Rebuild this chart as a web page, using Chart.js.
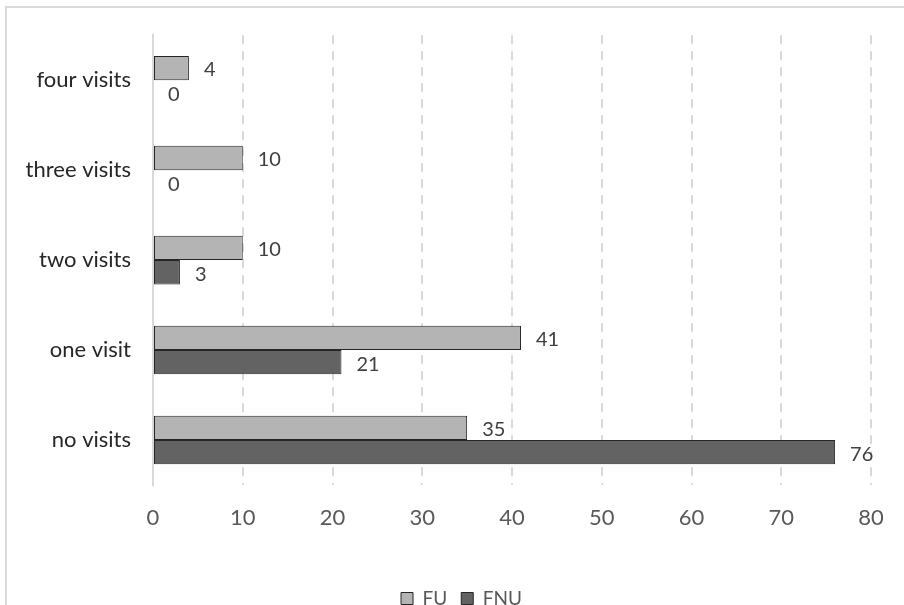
<!DOCTYPE html>
<html>
<head>
<meta charset="utf-8">
<script src="https://cdn.jsdelivr.net/npm/chart.js@4.4.0/dist/chart.umd.min.js"></script>
<style>
  html, body { margin: 0; padding: 0; background: #fff; }
  #wrap { position: relative; width: 904px; height: 605px; overflow: hidden; }
  #frame { position: absolute; left: 5px; top: 6px; width: 1000px; height: 700px; border: 2px solid #d9d9d9; box-sizing: border-box; }
  #chart { position: absolute; left: 0; top: 0; }
</style>
</head>
<body>
<div id="wrap">
  <div id="frame"></div>
  <canvas id="chart" width="904" height="622"></canvas>
</div>
<script>
// dados
const categories = ['four visits', 'three visits', 'two visits', 'one visit', 'no visits'];
const fuValues = [4, 10, 10, 41, 35];
const fnuValues = [0, 0, 3, 21, 76];
const xTicks = [0, 10, 20, 30, 40, 50, 60, 70, 80];

const FONT = 'Lato, "Open Sans", sans-serif';

// rótulos de valor à direita de cada barra
const valueLabels = {
    id: 'valueLabels',
    afterDatasetsDraw(chart) {
        const ctx = chart.ctx;
        ctx.save();
        ctx.font = '20px ' + FONT;
        ctx.fillStyle = '#404040';
        ctx.textBaseline = 'middle';
        ctx.textAlign = 'left';
        chart.data.datasets.forEach((ds, i) => {
            const meta = chart.getDatasetMeta(i);
            meta.data.forEach((bar, j) => {
                ctx.fillText(String(ds.data[j]), bar.x + 15, bar.y + 2);
            });
        });
        ctx.restore();
    }
};

// empurra a legenda um pouco para a direita, como no original
const shiftLegend = {
    id: 'shiftLegend',
    afterLayout(chart) {
        if (chart.legend) {
            chart.legend.left += 26;
            chart.legend.right += 26;
        }
    }
};

const ctx = document.getElementById('chart').getContext('2d');
new Chart(ctx, {
    type: 'bar',
    data: {
        labels: categories,
        datasets: [
            { label: 'FU', data: fuValues, backgroundColor: '#b4b4b4', borderColor: '#262626', borderWidth: 1, borderSkipped: false },
            { label: 'FNU', data: fnuValues, backgroundColor: '#636363', borderColor: '#262626', borderWidth: 1, borderSkipped: false }
        ]
    },
    options: {
        indexAxis: 'y',
        responsive: false,
        animation: false,
        devicePixelRatio: 1,
        layout: { padding: { left: 0, right: 33, top: 35, bottom: 4 } },
        datasets: { bar: { categoryPercentage: 0.54, barPercentage: 1.0 } },
        plugins: {
            legend: {
                position: 'bottom',
                labels: {
                    font: { family: FONT, size: 19 },
                    color: '#595959',
                    boxWidth: 12,
                    boxHeight: 12,
                    padding: 14
                }
            },
            tooltip: { enabled: false }
        },
        scales: {
            x: {
                min: 0,
                max: 80,
                afterBuildTicks: (scale) => { scale.ticks = xTicks.map(v => ({ value: v })); },
                afterFit: (scale) => { scale.height = 90; },
                ticks: { font: { family: FONT, size: 22 }, color: '#595959', padding: 20 },
                grid: {
                    color: (c) => c.tick && c.tick.value === 0 ? 'rgba(0,0,0,0)' : '#d9d9d9',
                    lineWidth: 2,
                    drawTicks: false
                },
                border: { display: false, dash: [9, 7] }
            },
            y: {
                afterFit: (scale) => { scale.width = 153; },
                ticks: { font: { family: FONT, size: 22 }, color: '#262626', padding: 22 },
                grid: { display: false, drawTicks: false },
                border: { display: true, color: '#d9d9d9', width: 2 }
            }
        }
    },
    plugins: [valueLabels, shiftLegend]
});
</script>
</body>
</html>
